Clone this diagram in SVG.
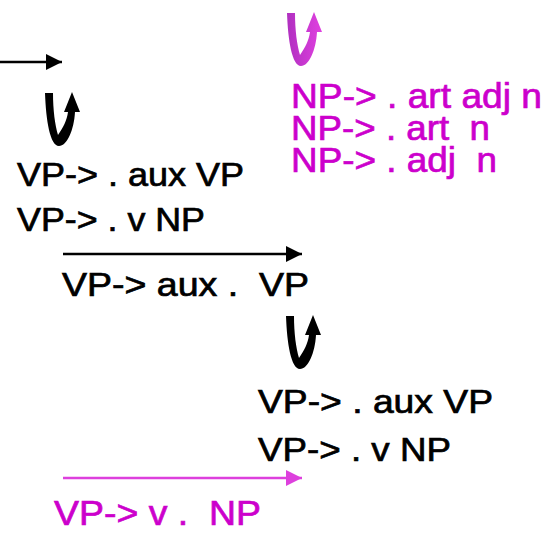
<svg xmlns="http://www.w3.org/2000/svg" width="550" height="540" viewBox="0 0 550 540">
<style>
text{font-family:"Liberation Sans",Arial,sans-serif;}
.k{fill:#000;stroke:#000;stroke-width:0.7;font-size:33px;}
.m{fill:#cc00cc;stroke:#cc00cc;stroke-width:0.7;font-size:35px;}
.hk{stroke:#000;stroke-width:2.5;fill:none;}
.hm{stroke:#dd40dd;stroke-width:2.5;fill:none;}
</style>
<defs>
<marker id="ak" viewBox="0 0 16 16" refX="16" refY="8" markerWidth="16" markerHeight="16" markerUnits="userSpaceOnUse" orient="auto">
<path d="M0,0 L16,8 L0,16 Z" fill="#000"/>
</marker>
<marker id="am" viewBox="0 0 16 16" refX="16" refY="8" markerWidth="16" markerHeight="16" markerUnits="userSpaceOnUse" orient="auto">
<path d="M0,0 L16,8 L0,16 Z" fill="#dd40dd"/>
</marker>
<path id="uturn" d="M-27,1 L-19,1 C-19,18 -17,33 -14,43 C-9,36 -5,28 -4,20 L-8,20 L0,0 L8,20 L3,20 C2,38 -5,54 -13,54 C-22,54 -26,28 -27,1 Z"/>
<linearGradient id="gm" x1="0" y1="0" x2="1" y2="0">
<stop offset="0" stop-color="#b030c0"/>
<stop offset="1" stop-color="#e040e0"/>
</linearGradient>
</defs>
<g id="connectors">
<line class="hk" x1="0" y1="62" x2="62" y2="62" marker-end="url(#ak)"/>
<line class="hk" x1="63" y1="254" x2="302" y2="254" marker-end="url(#ak)"/>
<line class="hm" x1="63" y1="478" x2="302" y2="478" marker-end="url(#am)"/>
<use href="#uturn" transform="translate(72,92)" fill="#000"/>
<use href="#uturn" transform="translate(314,12)" fill="url(#gm)"/>
<use href="#uturn" transform="translate(313,315)" fill="#000"/>
</g>
<g id="node-vp-items-1">
<text class="k" x="17" y="186" textLength="227" lengthAdjust="spacingAndGlyphs">VP-&gt; . aux VP</text>
<text class="k" x="17" y="231" textLength="188" lengthAdjust="spacingAndGlyphs">VP-&gt; . v NP</text>
</g>
<g id="node-np-items">
<text class="m" x="291" y="108" textLength="251" lengthAdjust="spacingAndGlyphs">NP-&gt; . art adj n</text>
<text class="m" x="291" y="140" textLength="199" lengthAdjust="spacingAndGlyphs">NP-&gt; . art&#160; n</text>
<text class="m" x="291" y="172" textLength="206" lengthAdjust="spacingAndGlyphs">NP-&gt; . adj&#160; n</text>
</g>
<g id="node-vp-aux">
<text class="k" x="62" y="296" textLength="247" lengthAdjust="spacingAndGlyphs">VP-&gt; aux .&#160; VP</text>
</g>
<g id="node-vp-items-2">
<text class="k" x="258" y="413" font-size="34" textLength="235" lengthAdjust="spacingAndGlyphs">VP-&gt; . aux VP</text>
<text class="k" x="258" y="461" font-size="34" textLength="193" lengthAdjust="spacingAndGlyphs">VP-&gt; . v NP</text>
</g>
<g id="node-vp-v">
<text class="m" x="54" y="525" font-size="33" textLength="207" lengthAdjust="spacingAndGlyphs">VP-&gt; v .&#160; NP</text>
</g>
</svg>
